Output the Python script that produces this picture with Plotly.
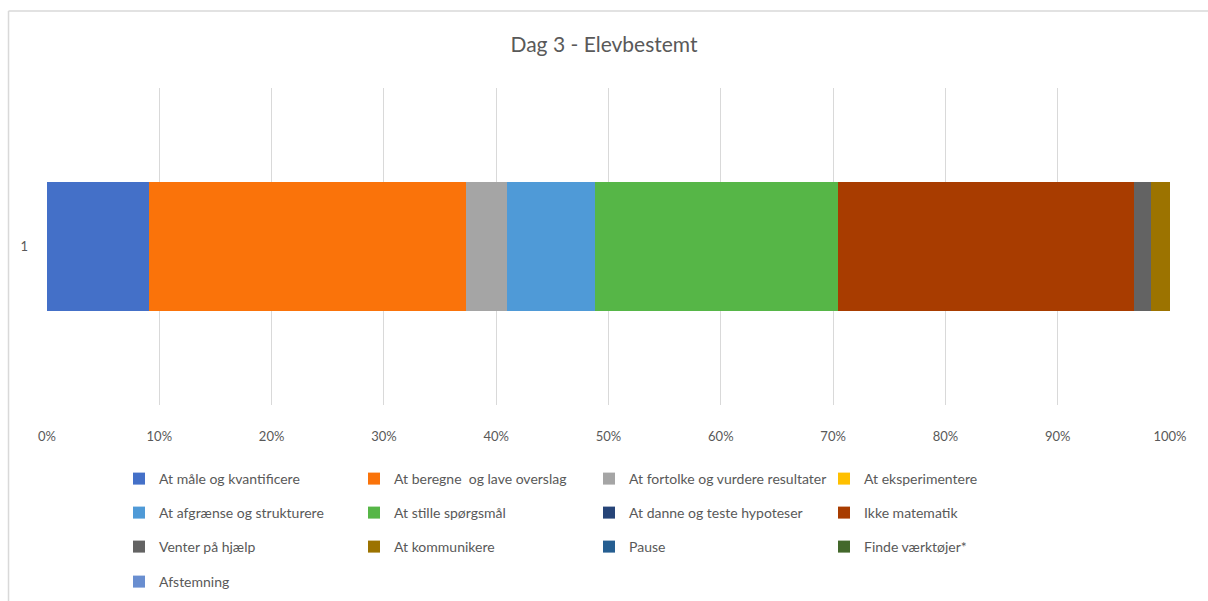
import plotly.graph_objects as go

categories = ["1"]
series_names = [
    "At måle og kvantificere", "At beregne  og lave overslag", "At fortolke og vurdere resultater", "At eksperimentere",
    "At afgrænse og strukturere", "At stille spørgsmål", "At danne og teste hypoteser", "Ikke matematik",
    "Venter på hjælp", "At kommunikere", "Pause", "Finde værktøjer*",
    "Afstemning",
]
series_values = [9.1, 28.2, 3.7, 0.0, 7.8, 21.6, 0.0, 26.4, 1.5, 1.7, 0.0, 0.0, 0.0]
series_colors = [
    "#4470C8", "#FA730A", "#A5A5A5", "#FFC000",
    "#4F9AD7", "#56B647", "#264478", "#A83C00",
    "#636363", "#9C7300", "#255E91", "#43682B",
    "#698ED0",
]
tick_vals = [0, 10, 20, 30, 40, 50, 60, 70, 80, 90, 100]
tick_labels = ["0%", "10%", "20%", "30%", "40%", "50%", "60%", "70%", "80%", "90%", "100%"]

W, H = 1208, 601
L, R, T, B = 46.5, 1170, 88, 405

legend_rows = ["legend", "legend2", "legend3", "legend4"]
row_y = [479, 513, 547, 582]

fig = go.Figure()
for i, (name, val, col) in enumerate(zip(series_names, series_values, series_colors)):
    fig.add_trace(go.Bar(
        y=categories, x=[val], name=name, orientation="h",
        marker=dict(color=col, line=dict(width=0)),
        legend=legend_rows[i // 4],
    ))

text_color = "#595959"
font_family = "Lato, Open Sans, sans-serif"

legend_common = dict(
    orientation="h", xref="container", yref="container",
    xanchor="left", yanchor="middle",
    font=dict(family=font_family, size=14, color=text_color),
    entrywidth=190, entrywidthmode="pixels",
    bgcolor="rgba(0,0,0,0)", borderwidth=0,
    traceorder="normal", itemclick=False,
)
legends = {}
for name, py in zip(legend_rows, row_y):
    legends[name] = dict(legend_common, x=119 / W, y=1 - py / H)

fig.update_layout(
    width=W, height=H,
    margin=dict(l=L, r=W - R, t=T, b=H - B, pad=0),
    paper_bgcolor="white", plot_bgcolor="white",
    barmode="stack", bargap=0.593,
    showlegend=True,
    title=dict(text="Dag 3 - Elevbestemt", x=0.5, xref="container", xanchor="center",
               y=1 - 45 / H, yref="container", yanchor="middle",
               font=dict(family=font_family, size=21, color=text_color)),
    font=dict(family=font_family, color=text_color),
    xaxis=dict(range=[0, 100], tickmode="array", tickvals=tick_vals, ticktext=tick_labels,
               showgrid=True, gridcolor="#D9D9D9", gridwidth=1,
               zeroline=False, showline=False, ticks="",
               ticklabelstandoff=22,
               tickfont=dict(family=font_family, size=13, color=text_color),
               fixedrange=True),
    yaxis=dict(type="category", showgrid=False, zeroline=False, showline=False,
               ticks="", ticklabelstandoff=18,
               tickfont=dict(family=font_family, size=13, color=text_color),
               fixedrange=True),
    shapes=[
        dict(type="line", xref="paper", yref="paper",
             x0=(8 - L) / (R - L), x1=(1215 - L) / (R - L),
             y0=(B - 11) / (B - T), y1=(B - 11) / (B - T),
             line=dict(color="#D9D9D9", width=1.5)),
        dict(type="line", xref="paper", yref="paper",
             x0=(8 - L) / (R - L), x1=(8 - L) / (R - L),
             y0=(B - 11) / (B - T), y1=(B - 610) / (B - T),
             line=dict(color="#D9D9D9", width=1.5)),
    ],
    **legends,
)

fig.write_html("out.html")
